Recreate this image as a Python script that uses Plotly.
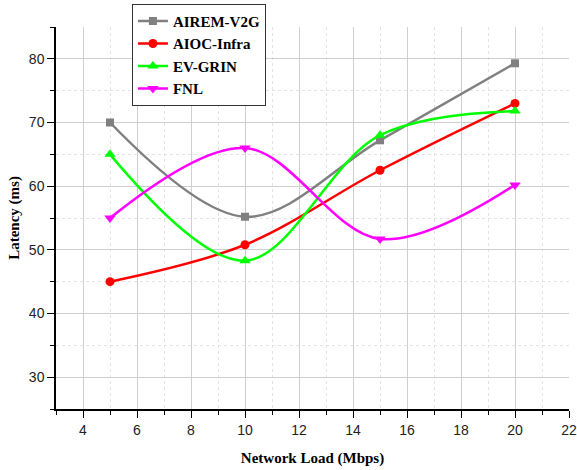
import plotly.graph_objects as go

x_load = [5, 10, 15, 20]
airem_v2g = [70.0, 55.2, 67.2, 79.3]
aioc_infra = [45.0, 50.8, 62.5, 73.0]
ev_grin = [65.0, 48.3, 68.0, 71.8]
fnl = [55.0, 66.0, 51.7, 60.2]

series = [
    ("AIREM-V2G", airem_v2g, "#808080", "square", 8),
    ("AIOC-Infra", aioc_infra, "#FF0000", "circle", 9),
    ("EV-GRIN", ev_grin, "#00FF00", "triangle-up", 10),
    ("FNL", fnl, "#FF00FF", "triangle-down", 10),
]

fig = go.Figure()
for name, ys, color, sym, sz in series:
    fig.add_trace(go.Scatter(
        x=x_load, y=ys, name="<b>" + name + "</b>", mode="lines+markers",
        line=dict(color=color, width=2.5, shape="spline", smoothing=1.0),
        marker=dict(symbol=sym, size=sz, color=color),
    ))

axis_common = dict(
    showline=True, linecolor="black", linewidth=1.5,
    ticks="outside", ticklen=7, tickwidth=1.2, tickcolor="black",
    showgrid=True, gridcolor="#cfcfcf", gridwidth=1,
    zeroline=False,
    tickfont=dict(family="Liberation Sans, Arial", size=14, color="#222"),
    title_font=dict(family="Liberation Serif, Times New Roman", size=15, color="black"),
)

fig.update_layout(
    width=577, height=470,
    margin=dict(l=56, r=8, t=27, b=61, autoexpand=False),
    plot_bgcolor="white", paper_bgcolor="white",
    showlegend=True,
    legend=dict(
        x=0.148, y=1.061, xanchor="left", yanchor="top",
        bgcolor="white", bordercolor="#333", borderwidth=1,
        font=dict(family="Liberation Serif, Times New Roman", size=15, color="black"),
        tracegroupgap=0,
    ),
    xaxis=dict(
        axis_common, range=[3, 22], dtick=2, tick0=0,
        title=dict(text="<b>Network Load (Mbps)</b>", standoff=16),
        minor=dict(dtick=1, ticks="outside", ticklen=4, tickcolor="black",
                   showgrid=True, gridcolor="#e3e3e3", griddash="dot"),
    ),
    yaxis=dict(
        axis_common, range=[25, 85], dtick=10, tick0=0,
        title=dict(text="<b>Latency (ms)</b>", standoff=6),
        minor=dict(dtick=5, ticks="outside", ticklen=4, tickcolor="black",
                   showgrid=True, gridcolor="#e3e3e3", griddash="dot"),
    ),
)

fig.write_html("out.html")
